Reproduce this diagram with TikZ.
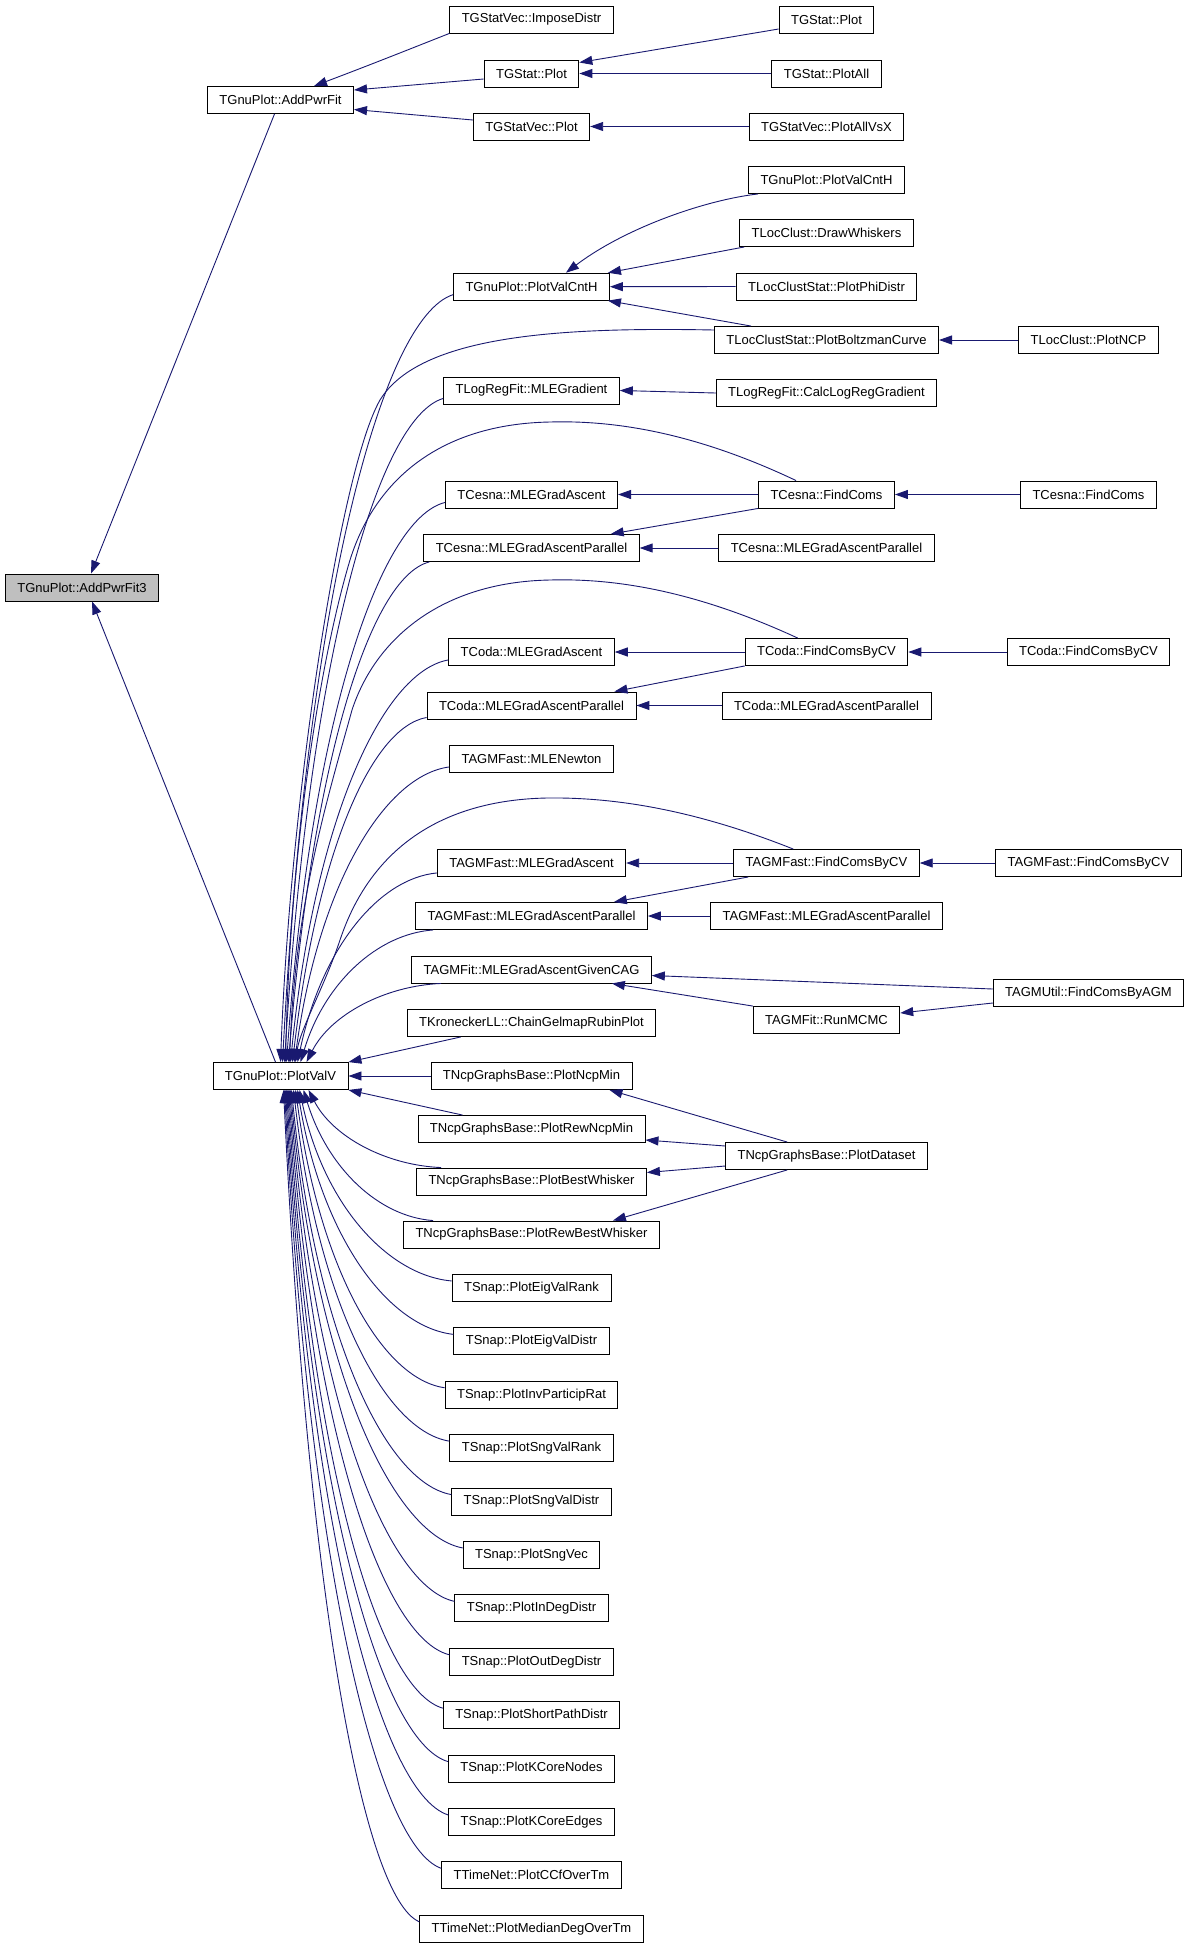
\documentclass[tikz,border=0pt]{standalone}
\usepackage{fontspec}
\setmainfont{Liberation Sans}
\usetikzlibrary{arrows.meta,calc}
\definecolor{edgeblue}{HTML}{191970}
\definecolor{hlgray}{HTML}{BFBFBF}
\newcommand\fanedge[2]{\draw[edge] let \p1=(#1), \p2=(#2) in (\p1) .. controls ({\x1-0.42*(\x1-\x2)},{\y1+0.03*(\y2-\y1)}) and ({\x2+24pt},{\y1+0.4*(\y2-\y1)}) .. (\p2);}
\begin{document}
\begin{tikzpicture}[x=1pt,y=-1pt,
  box/.style={draw=black, line width=0.9pt, fill=white, minimum height=27pt, inner xsep=12pt, inner ysep=0pt, font=\fontsize{13}{15}\selectfont},
  edge/.style={draw=edgeblue, line width=0.9pt, -{Triangle[length=13pt,width=9pt]}}]
\fill[white] (0,0) rectangle (1192,1949);
\useasboundingbox (0,0) rectangle (1192,1949);
% left
\node[box, fill=hlgray] (a3) at (82,587.5) {TGnuPlot::AddPwrFit3};
\node[box] (apf) at (280.5,100) {TGnuPlot::AddPwrFit};
\node[box] (v) at (280.5,1076) {TGnuPlot::PlotValV};
% middle column
\node[box] (imp) at (531.5,19.5) {TGStatVec::ImposeDistr};
\node[box] (gsm) at (531.5,73.5) {TGStat::Plot};
\node[box] (gsv) at (531.5,126.5) {TGStatVec::Plot};
\node[box] (pvm) at (531.5,286.7) {TGnuPlot::PlotValCntH};
\node[box] (mleg) at (531.5,390.5) {TLogRegFit::MLEGradient};
\node[box] (cma) at (531.5,494.5) {TCesna::MLEGradAscent};
\node[box] (cpa) at (531.5,548) {TCesna::MLEGradAscentParallel};
\node[box] (dma) at (531.5,652) {TCoda::MLEGradAscent};
\node[box] (dpa) at (531.5,705.5) {TCoda::MLEGradAscentParallel};
\node[box] (newt) at (531.5,759) {TAGMFast::MLENewton};
\node[box] (fma) at (531.5,863) {TAGMFast::MLEGradAscent};
\node[box] (fpa) at (531.5,916) {TAGMFast::MLEGradAscentParallel};
\node[box] (cag) at (531.5,969.5) {TAGMFit::MLEGradAscentGivenCAG};
\node[box] (kr) at (531.5,1023) {TKroneckerLL::ChainGelmapRubinPlot};
\node[box] (nm) at (531.5,1076) {TNcpGraphsBase::PlotNcpMin};
\node[box] (rnm) at (531.5,1129) {TNcpGraphsBase::PlotRewNcpMin};
\node[box] (bw) at (531.5,1181.5) {TNcpGraphsBase::PlotBestWhisker};
\node[box] (rbw) at (531.5,1234.5) {TNcpGraphsBase::PlotRewBestWhisker};
\node[box] (s1) at (531.5,1287.9) {TSnap::PlotEigValRank};
\node[box] (s2) at (531.5,1341.3) {TSnap::PlotEigValDistr};
\node[box] (s3) at (531.5,1394.7) {TSnap::PlotInvParticipRat};
\node[box] (s4) at (531.5,1448.1) {TSnap::PlotSngValRank};
\node[box] (s5) at (531.5,1501.5) {TSnap::PlotSngValDistr};
\node[box] (s6) at (531.5,1554.9) {TSnap::PlotSngVec};
\node[box] (s7) at (531.5,1608.3) {TSnap::PlotInDegDistr};
\node[box] (s8) at (531.5,1661.7) {TSnap::PlotOutDegDistr};
\node[box] (s9) at (531.5,1715.1) {TSnap::PlotShortPathDistr};
\node[box] (s10) at (531.5,1768.5) {TSnap::PlotKCoreNodes};
\node[box] (s11) at (531.5,1821.9) {TSnap::PlotKCoreEdges};
\node[box] (s12) at (531.5,1875.3) {TTimeNet::PlotCCfOverTm};
\node[box] (s13) at (531.5,1928.7) {TTimeNet::PlotMedianDegOverTm};
% right column
\node[box] (gsr) at (826.5,19.5) {TGStat::Plot};
\node[box] (gsa) at (826.5,73.5) {TGStat::PlotAll};
\node[box] (gsx) at (826.5,126.5) {TGStatVec::PlotAllVsX};
\node[box] (pvr) at (826.5,180) {TGnuPlot::PlotValCntH};
\node[box] (dw) at (826.5,233) {TLocClust::DrawWhiskers};
\node[box] (phi) at (826.5,286.5) {TLocClustStat::PlotPhiDistr};
\node[box] (bz) at (826.5,340) {TLocClustStat::PlotBoltzmanCurve};
\node[box] (calc) at (826.5,393) {TLogRegFit::CalcLogRegGradient};
\node[box] (cfc) at (826.5,494.5) {TCesna::FindComs};
\node[box] (cpa2) at (826.5,548) {TCesna::MLEGradAscentParallel};
\node[box] (dfc) at (826.5,652) {TCoda::FindComsByCV};
\node[box] (dpa2) at (826.5,705.5) {TCoda::MLEGradAscentParallel};
\node[box] (ffc) at (826.5,863) {TAGMFast::FindComsByCV};
\node[box] (fpa2) at (826.5,916) {TAGMFast::MLEGradAscentParallel};
\node[box] (mcmc) at (826.5,1020) {TAGMFit::RunMCMC};
\node[box] (ds) at (826.5,1156) {TNcpGraphsBase::PlotDataset};
% far right
\node[box] (ncp) at (1088.5,340) {TLocClust::PlotNCP};
\node[box] (cfc2) at (1088.5,494.5) {TCesna::FindComs};
\node[box] (dfc2) at (1088.5,652) {TCoda::FindComsByCV};
\node[box] (ffc2) at (1088.5,863) {TAGMFast::FindComsByCV};
\node[box] (agm) at (1088.5,993) {TAGMUtil::FindComsByAGM};
% edges: top
\draw[edge] ($(apf.south)+(-6,0)$) -- ($(a3.north)+(9,0)$);
\draw[edge] ($(v.north)+(-5,0)$) -- ($(a3.south)+(10,0)$);
\draw[edge] (imp.south west) .. controls (420,45) and (370,65) .. ($(apf.north east)+(-40,0)$);
\draw[edge] ($(gsm.west)+(0,5.5)$) -- ($(apf.east)+(0,-10)$);
\draw[edge] ($(gsv.west)+(0,-6.5)$) -- ($(apf.east)+(0,9.5)$);
\draw[edge] ($(gsr.west)+(0,9.5)$) -- ($(gsm.east)+(0,-11)$);
\draw[edge] (gsa.west) -- (gsm.east);
\draw[edge] (gsx.west) -- (gsv.east);
% PlotValCntH group
\draw[edge] ($(pvr.south west)+(10,0)$) .. controls (705,200) and (625,228) .. ($(pvm.north east)+(-44,0)$);
\draw[edge] ($(dw.south west)+(5,0)$) -- ($(pvm.north east)+(-2,0)$);
\draw[edge] (phi.west) -- (pvm.east);
\draw[edge] ($(bz.north west)+(37,0)$) -- ($(pvm.south east)+(-2,0)$);
\draw[edge] (ncp.west) -- (bz.east);
\draw[edge] (calc.west) -- (mleg.east);
% TCesna
\draw[edge] (cfc.west) -- (cma.east);
\draw[edge] (cfc.south west) -- ($(cpa.north east)+(-29,0)$);
\draw[edge] (cpa2.west) -- (cpa.east);
\draw[edge] (cfc2.west) -- (cfc.east);
% TCoda
\draw[edge] (dfc.west) -- (dma.east);
\draw[edge] (dfc.south west) -- ($(dpa.north east)+(-22,0)$);
\draw[edge] (dpa2.west) -- (dpa.east);
\draw[edge] (dfc2.west) -- (dfc.east);
% TAGMFast
\draw[edge] (ffc.west) -- (fma.east);
\draw[edge] ($(ffc.south west)+(15,0)$) -- ($(fpa.north east)+(-34,0)$);
\draw[edge] (fpa2.west) -- (fpa.east);
\draw[edge] (ffc2.west) -- (ffc.east);
% AGM
\draw[edge] ($(agm.west)+(0,-4)$) -- ($(cag.east)+(0,6)$);
\draw[edge] (mcmc.north west) -- ($(cag.south east)+(-40,0)$);
\draw[edge] ($(agm.west)+(0,10)$) -- ($(mcmc.east)+(0,-7)$);
% Ncp
\draw[edge] ($(kr.south west)+(54,0)$) -- (v.north east);
\draw[edge] (nm.west) -- (v.east);
\draw[edge] ($(rnm.north west)+(45,0)$) -- (v.south east);
\draw[edge] ($(ds.north west)+(62,0)$) -- ($(nm.south east)+(-23,0)$);
\draw[edge] ($(ds.west)+(0,-10)$) -- ($(rnm.east)+(0,11)$);
\draw[edge] ($(ds.west)+(0,10)$) -- ($(bw.east)+(0,-9)$);
\draw[edge] ($(ds.south west)+(62,0)$) -- ($(rbw.north east)+(-47,0)$);
% long curves into PlotValV
\draw[edge] ($(bz.west)+(0,-10)$) .. controls (560,327) and (420,335) .. (380,400) .. controls (340,470) and (290,800) .. ($(v.north west)+(68,0)$);
\draw[edge] ($(cfc.north west)+(38,0)$) .. controls (700,435) and (620,420) .. (550,422) .. controls (440,424) and (375,480) .. (350,560) .. controls (320,660) and (290,850) .. ($(v.north west)+(73,0)$);
\draw[edge] ($(dfc.north west)+(53,0)$) .. controls (700,593) and (620,578) .. (550,580) .. controls (440,582) and (375,640) .. (352,710) .. controls (330,790) and (295,900) .. ($(v.north west)+(77,0)$);
\draw[edge] ($(ffc.north west)+(60,0)$) .. controls (700,812) and (620,797) .. (547,798) .. controls (440,800) and (370,850) .. (340,940) .. controls (325,985) and (300,1030) .. ($(v.north west)+(83,0)$);
% upper fan
\fanedge{$(pvm.south west)+(0,-6)$}{$(v.north west)+(70,0)$}
\fanedge{$(mleg.south west)+(0,-6)$}{$(v.north west)+(72,0)$}
\fanedge{$(cma.south west)+(0,-6)$}{$(v.north west)+(74,0)$}
\fanedge{$(cpa.south west)+(6,0)$}{$(v.north west)+(76,0)$}
\fanedge{$(dma.south west)+(0,-6)$}{$(v.north west)+(78,0)$}
\fanedge{$(dpa.south west)+(0,-2)$}{$(v.north west)+(80,0)$}
\fanedge{$(newt.south west)+(0,-6)$}{$(v.north west)+(82,0)$}
\fanedge{$(fma.south west)+(0,-4)$}{$(v.north west)+(85,0)$}
\fanedge{$(fpa.south west)+(18,0)$}{$(v.north west)+(88,0)$}
\fanedge{$(cag.south west)+(30,0)$}{$(v.north west)+(94,0)$}
% lower fan
\fanedge{$(bw.north west)+(25,0)$}{$(v.south west)+(96,0)$}
\fanedge{$(rbw.north west)+(30,0)$}{$(v.south west)+(91,0)$}
\fanedge{$(s1.north west)+(0,7)$}{$(v.south west)+(87,0)$}
\fanedge{$(s2.north west)+(0,7)$}{$(v.south west)+(85,0)$}
\fanedge{$(s3.north west)+(0,7)$}{$(v.south west)+(83,0)$}
\fanedge{$(s4.north west)+(0,7)$}{$(v.south west)+(81,0)$}
\fanedge{$(s5.north west)+(0,7)$}{$(v.south west)+(79,0)$}
\fanedge{$(s6.north west)+(0,7)$}{$(v.south west)+(78,0)$}
\fanedge{$(s7.north west)+(0,7)$}{$(v.south west)+(77,0)$}
\fanedge{$(s8.north west)+(0,7)$}{$(v.south west)+(76,0)$}
\fanedge{$(s9.north west)+(0,7)$}{$(v.south west)+(75,0)$}
\fanedge{$(s10.north west)+(0,7)$}{$(v.south west)+(74,0)$}
\fanedge{$(s11.north west)+(0,7)$}{$(v.south west)+(73,0)$}
\fanedge{$(s12.north west)+(0,7)$}{$(v.south west)+(72,0)$}
\fanedge{$(s13.north west)+(0,7)$}{$(v.south west)+(71,0)$}
\end{tikzpicture}
\end{document}
